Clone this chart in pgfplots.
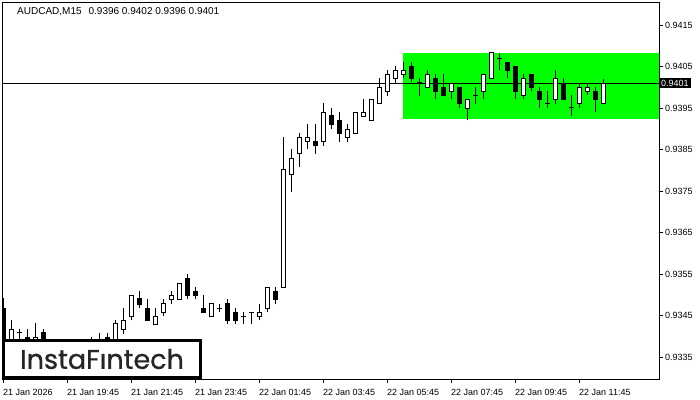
\documentclass[border=0pt]{standalone}
\usepackage{fontspec}
\setmainfont{Liberation Sans}
\newfontfamily\logofont{Poppins}[FakeBold=0.8]
\usepackage{pgfplots}
\usepackage{pgfplotstable}
\pgfplotsset{compat=1.18}
\definecolor{boxgreen}{RGB}{0,255,0}
\pgfplotstableread{
i o h l c
0 0.93468 0.93492 0.93330 0.93340
1 0.93382 0.93439 0.93372 0.93417
2 0.93408 0.93418 0.93370 0.93408
3 0.93398 0.93418 0.93365 0.93375
4 0.93380 0.93432 0.93372 0.93398
5 0.93408 0.93418 0.93360 0.93370
6 0.93372 0.93385 0.93355 0.93360
7 0.93360 0.93378 0.93348 0.93370
8 0.93370 0.93382 0.93358 0.93365
9 0.93365 0.93380 0.93350 0.93375
10 0.93375 0.93386 0.93362 0.93380
11 0.93380 0.93398 0.93370 0.93385
12 0.93385 0.93408 0.93372 0.93388
13 0.93398 0.93408 0.93370 0.93378
14 0.93380 0.93439 0.93375 0.93430
15 0.93417 0.93468 0.93405 0.93438
16 0.93447 0.93499 0.93438 0.93499
17 0.93490 0.93509 0.93467 0.93477
18 0.93468 0.93489 0.93438 0.93438
19 0.93429 0.93468 0.93429 0.93448
20 0.93458 0.93489 0.93448 0.93478
21 0.93489 0.93509 0.93478 0.93499
22 0.93489 0.93528 0.93489 0.93528
23 0.93538 0.93550 0.93489 0.93499
24 0.93509 0.93519 0.93489 0.93499
25 0.93468 0.93499 0.93458 0.93458
26 0.93448 0.93478 0.93448 0.93478
27 0.93468 0.93478 0.93458 0.93468
28 0.93478 0.93489 0.93429 0.93438
29 0.93458 0.93468 0.93429 0.93438
30 0.93447 0.93458 0.93429 0.93447
31 0.93458 0.93458 0.93429 0.93458
32 0.93447 0.93477 0.93438 0.93458
33 0.93467 0.93518 0.93458 0.93518
34 0.93509 0.93518 0.93477 0.93489
35 0.93518 0.93879 0.93518 0.93801
36 0.93790 0.93851 0.93748 0.93829
37 0.93841 0.93889 0.93809 0.93879
38 0.93870 0.93911 0.93851 0.93879
39 0.93870 0.93911 0.93839 0.93859
40 0.93870 0.93961 0.93859 0.93940
41 0.93931 0.93949 0.93899 0.93910
42 0.93920 0.93940 0.93869 0.93889
43 0.93879 0.93911 0.93869 0.93899
44 0.93889 0.93940 0.93889 0.93940
45 0.93930 0.93971 0.93930 0.93940
46 0.93920 0.93971 0.93920 0.93971
47 0.93961 0.94022 0.93961 0.94000
48 0.93990 0.94042 0.93980 0.94031
49 0.94022 0.94051 0.94011 0.94041
50 0.94031 0.94060 0.94022 0.94041
51 0.94051 0.94060 0.94012 0.94022
52 0.94012 0.94022 0.93980 0.94012
53 0.94000 0.94041 0.94000 0.94031
54 0.94022 0.94031 0.93971 0.93990
55 0.94000 0.94031 0.93980 0.93980
56 0.93990 0.94010 0.93971 0.94010
57 0.94000 0.94000 0.93951 0.93960
58 0.93949 0.93971 0.93920 0.93971
59 0.93981 0.94000 0.93960 0.93981
60 0.93990 0.94031 0.93971 0.94031
61 0.94022 0.94083 0.94022 0.94083
62 0.94070 0.94083 0.94041 0.94070
63 0.94060 0.94060 0.94022 0.94041
64 0.94051 0.94051 0.93971 0.93990
65 0.93980 0.94031 0.93971 0.94022
66 0.94031 0.94031 0.93990 0.94000
67 0.93990 0.94000 0.93951 0.93971
68 0.93961 0.93990 0.93951 0.93961
69 0.93971 0.94041 0.93960 0.94022
70 0.94010 0.94022 0.93971 0.93971
71 0.93951 0.93981 0.93930 0.93951
72 0.93960 0.94010 0.93951 0.94000
73 0.93990 0.94010 0.93981 0.94000
74 0.93990 0.94000 0.93940 0.93971
75 0.93960 0.94020 0.93960 0.94010
}\candles
\begin{document}
\begin{tikzpicture}
\useasboundingbox (0,0) rectangle (700bp,400bp);
\begin{axis}[
  at={(2bp,21bp)}, anchor=south west,
  scale only axis, width=657bp, height=377bp,
  xmin=-0.125, xmax=82, ymin=0.93297, ymax=0.942054,
  axis line style={black, line width=0.8bp},
  clip mode=individual,
  xtick={0,8,16,24,32,40,48,56,64,72},
  xticklabels={21 Jan 2026,21 Jan 19:45,21 Jan 21:45,21 Jan 23:45,22 Jan 01:45,22 Jan 03:45,22 Jan 05:45,22 Jan 07:45,22 Jan 09:45,22 Jan 11:45},
  ytick={0.9335,0.9345,0.9355,0.9365,0.9375,0.9385,0.9395,0.9405,0.9415},
  yticklabels={0.9335,0.9345,0.9355,0.9365,0.9375,0.9385,0.9395,0.9405,0.9415},
  scaled y ticks=false,
  xtick pos=bottom, ytick pos=right, yticklabel pos=right,
  tick align=outside, major tick length=4bp,
  tick style={black, line width=0.8bp},
  ticklabel style={font=\fontsize{9bp}{10bp}\selectfont, inner sep=0pt},
  xticklabel style={anchor=west, yshift=-9bp},
  yticklabel style={anchor=west, xshift=2bp},
]
\addplot[fill=boxgreen, draw=none] coordinates {(50,0.939223) (83,0.939223) (83,0.940818) (50,0.940818)};
\addplot[black, line width=0.8bp] coordinates {(-1,0.9401) (83,0.9401)};
% wicks
\addplot[draw=none, no markers,
  error bars/.cd, y dir=plus, y explicit, error mark=none,
  error bar style={draw=black, line width=1bp}]
  table[x=i, y=l, y error expr=\thisrow{h}-\thisrow{l}] {\candles};
% body outlines / black bodies
\addplot[draw=none, no markers,
  error bars/.cd, y dir=plus, y explicit, error mark=none,
  error bar style={draw=black, line width=5bp}]
  table[x=i, y expr={min(\thisrow{o},\thisrow{c})-0.000012}, y error expr={abs(\thisrow{c}-\thisrow{o})+0.000024}] {\candles};
% white bodies
\addplot[draw=none, no markers,
  restrict expr to domain={\thisrow{c}-\thisrow{o}}{0.00003:1},
  error bars/.cd, y dir=plus, y explicit, error mark=none,
  error bar style={draw=white, line width=3bp}]
  table[x=i, y expr={\thisrow{o}+0.000012}, y error expr={\thisrow{c}-\thisrow{o}-0.000024}] {\candles};
\node[anchor=west, font=\fontsize{10bp}{11bp}\selectfont, inner sep=0pt] at (rel axis cs:0,1) [xshift=15bp, yshift=-10bp] {AUDCAD,M15\hspace{7bp}0.9396 0.9402 0.9396 0.9401};
\node[fill=black, text=white, anchor=west, inner xsep=2bp, inner ysep=1.5bp, font=\fontsize{9bp}{10bp}\selectfont] at (axis cs:82,0.9401) {0.9401};
\end{axis}
\draw[line width=2.5bp, fill=white] (3.5bp,22.5bp) rectangle (200.5bp,59.5bp);
\node[font=\logofont\fontsize{27bp}{27bp}\selectfont, text=black!85] at (102bp,41bp) {InstaFıntech};
\end{tikzpicture}
\end{document}
